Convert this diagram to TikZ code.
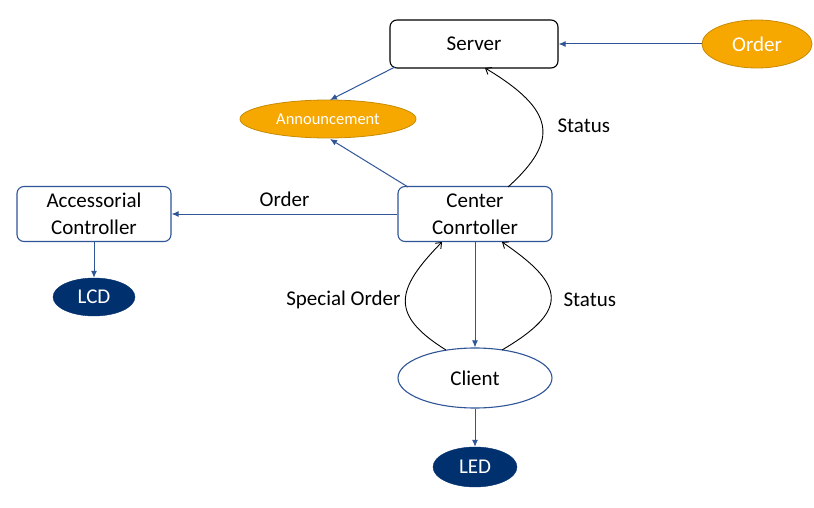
\documentclass[tikz,border=0pt]{standalone}
\usepackage{fontspec}
\setmainfont{Carlito}
\usetikzlibrary{shapes.geometric,arrows.meta}
\definecolor{lblue}{HTML}{2F5597}
\definecolor{orng}{HTML}{F7A800}
\definecolor{orngd}{HTML}{C88A00}
\definecolor{navy}{HTML}{00306E}
\tikzset{
  box/.style={draw=lblue, line width=1.1pt, rounded corners=7pt, fill=white, minimum width=154pt, minimum height=55pt, align=center, font=\fontsize{21}{27}\selectfont, inner sep=0pt},
  oval/.style={ellipse, inner sep=0pt},
  bluearr/.style={draw=lblue, line width=1pt, -{Latex[length=7pt,width=6pt]}},
  blackarr/.style={draw=black, line width=0.9pt, -{Straight Barb[length=5pt,width=8pt]}},
  lbl/.style={font=\fontsize{21}{25}\selectfont}
}
\begin{document}
\begin{tikzpicture}[x=1pt,y=-1pt]
\useasboundingbox (0,0) rectangle (814,508);
\node[box, draw=black, minimum width=168pt, minimum height=48pt] (server) at (474,44) {Server};
\node[oval, fill=orng, draw=orngd, line width=0.8pt, minimum width=110pt, minimum height=48pt, text=white, font=\fontsize{21}{25}\selectfont] (order) at (757,44) {Order};
\node[oval, fill=orng, draw=orngd, line width=0.8pt, minimum width=176pt, minimum height=38pt, text=white, font=\fontsize{16.5}{20}\selectfont] (ann) at (328,119) {Announcement};
\node[box] (center) at (475,214) {Center\\Conrtoller};
\node[box] (acc) at (94,214) {Accessorial\\Controller};
\node[oval, fill=navy, draw=navy, minimum width=82pt, minimum height=38pt, text=white, font=\fontsize{21}{25}\selectfont] (lcd) at (94,297) {LCD};
\node[oval, fill=white, draw=lblue, line width=1.1pt, minimum width=154pt, minimum height=60pt, font=\fontsize{21}{25}\selectfont] (client) at (475,378) {Client};
\node[oval, fill=navy, draw=navy, minimum width=84pt, minimum height=40pt, text=white, font=\fontsize{21}{25}\selectfont] (led) at (475,467) {LED};

\coordinate (sbl) at (395,67);
\coordinate (annt) at (330,100);
\coordinate (ctl) at (408,187);
\coordinate (annb) at (330,139);
\draw[bluearr] (order.west) -- (server.east);
\draw[bluearr] (sbl) -- (annt);
\draw[bluearr] (ctl) -- (annb);
\draw[bluearr] (center.west) -- node[above=4pt, lbl, text=black] {Order} (acc.east);
\draw[bluearr] (acc.south) -- (lcd.north);
\draw[bluearr] (center.south) -- (client.north);
\draw[bluearr] (client.south) -- (led.north);

\coordinate (ctr) at (508,187);
\coordinate (sb) at (485,68);
\draw[blackarr] (ctr) .. controls (560,140) and (555,110) .. (sb);
\node[lbl, anchor=west] (st1) at (554,126) {Status};
\coordinate (cl1) at (446,350);
\coordinate (cb1) at (442,242);
\draw[blackarr] (cl1) .. controls (390,315) and (395,290) .. (cb1);
\node[lbl, anchor=east] (so) at (404,300) {Special Order};
\coordinate (cl2) at (502,350);
\coordinate (cb2) at (502,242);
\draw[blackarr] (cl2) .. controls (570,310) and (565,285) .. (cb2);
\node[lbl, anchor=west] (st2) at (560,300) {Status};
\end{tikzpicture}
\end{document}
